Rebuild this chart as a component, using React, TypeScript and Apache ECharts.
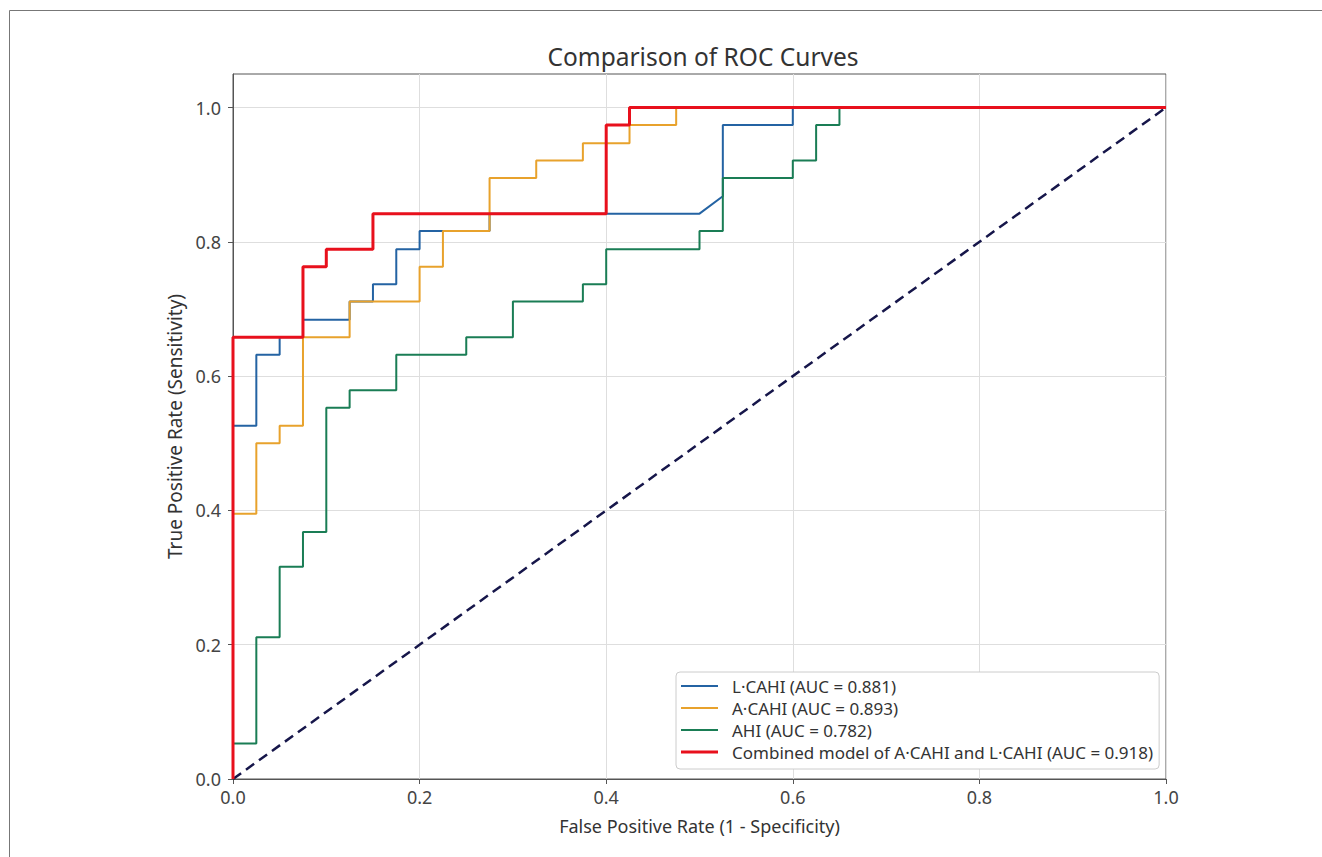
import React, { useEffect, useRef } from "react";
import * as echarts from "echarts";

const chartTitle = "Comparison of ROC Curves";
const xAxisName = "False Positive Rate (1 - Specificity)";
const yAxisName = "True Positive Rate (Sensitivity)";
const tickValues = [0, 0.2, 0.4, 0.6, 0.8, 1.0];

const seriesNames = [
  "L·CAHI (AUC = 0.881)",
  "A·CAHI (AUC = 0.893)",
  "AHI (AUC = 0.782)",
  "Combined model of A·CAHI and L·CAHI (AUC = 0.918)",
];

const lcahiPoints: number[][] = [
  [0, 0], [0, 0.526], [0.025, 0.526], [0.025, 0.632], [0.05, 0.632], [0.05, 0.658],
  [0.075, 0.658], [0.075, 0.684], [0.125, 0.684], [0.125, 0.711], [0.15, 0.711],
  [0.15, 0.737], [0.175, 0.737], [0.175, 0.789], [0.2, 0.789], [0.2, 0.816],
  [0.275, 0.816], [0.275, 0.842], [0.5, 0.842], [0.525, 0.868], [0.525, 0.974],
  [0.6, 0.974], [0.6, 1], [1, 1],
];

const acahiPoints: number[][] = [
  [0, 0], [0, 0.395], [0.025, 0.395], [0.025, 0.5], [0.05, 0.5], [0.05, 0.526],
  [0.075, 0.526], [0.075, 0.658], [0.125, 0.658], [0.125, 0.711], [0.2, 0.711],
  [0.2, 0.763], [0.225, 0.763], [0.225, 0.816], [0.275, 0.816], [0.275, 0.895],
  [0.325, 0.895], [0.325, 0.921], [0.375, 0.921], [0.375, 0.947], [0.425, 0.947],
  [0.425, 0.974], [0.475, 0.974], [0.475, 1], [1, 1],
];

const ahiPoints: number[][] = [
  [0, 0], [0, 0.053], [0.025, 0.053], [0.025, 0.211], [0.05, 0.211], [0.05, 0.316],
  [0.075, 0.316], [0.075, 0.368], [0.1, 0.368], [0.1, 0.553], [0.125, 0.553],
  [0.125, 0.579], [0.175, 0.579], [0.175, 0.632], [0.25, 0.632], [0.25, 0.658],
  [0.3, 0.658], [0.3, 0.711], [0.375, 0.711], [0.375, 0.737], [0.4, 0.737],
  [0.4, 0.789], [0.5, 0.789], [0.5, 0.816], [0.525, 0.816], [0.525, 0.895],
  [0.6, 0.895], [0.6, 0.921], [0.625, 0.921], [0.625, 0.974], [0.65, 0.974],
  [0.65, 1], [1, 1],
];

const combinedPoints: number[][] = [
  [0, 0], [0, 0.658], [0.075, 0.658], [0.075, 0.763], [0.1, 0.763], [0.1, 0.789],
  [0.15, 0.789], [0.15, 0.842], [0.4, 0.842], [0.4, 0.974], [0.425, 0.974],
  [0.425, 1], [1, 1],
];

const chancePoints: number[][] = [
  [0, 0], [1, 1],
];

const seriesColors = ["#2463a3", "#e8a22c", "#1a7d55", "#e8101c"];

export default function App() {
  const ref = useRef<HTMLDivElement>(null);
  useEffect(() => {
    if (!ref.current) return;
    const chart = echarts.init(ref.current, undefined, { renderer: "svg" });
    const font = "'Noto Sans', 'DejaVu Sans', sans-serif";
    const dataSets = [lcahiPoints, acahiPoints, ahiPoints, combinedPoints];
    const lineSeries: any[] = dataSets.map((d, i) => ({
      name: seriesNames[i],
      type: "line",
      data: d,
      symbol: "none",
      showSymbol: false,
      color: seriesColors[i],
      lineStyle: { color: seriesColors[i], width: i === 3 ? 3 : 2 },
      z: 3 + i,
    }));
    lineSeries.push({
      name: "chance",
      type: "line",
      data: chancePoints,
      symbol: "none",
      lineStyle: { color: "#16164a", width: 2.5, type: [10, 6] },
      z: 2,
    });
    const legendData = seriesNames.map((n, i) => ({
      name: n,
      icon: i === 3 ? "path://M0,0H37V3H0Z" : "path://M0,0H37V2H0Z",
    }));
    chart.setOption({
      animation: false,
      backgroundColor: "#ffffff",
      textStyle: { fontFamily: font },
      title: {
        text: chartTitle,
        left: 698,
        top: 39,
        textAlign: "center",
        textStyle: { fontFamily: font, fontSize: 24.5, fontWeight: "normal", color: "#333" },
      },
      graphic: [
        {
          type: "rect",
          shape: { x: 9.5, y: 10.5, width: 1400, height: 900 },
          style: { fill: "none", stroke: "#777", lineWidth: 1 },
          silent: true,
        },
      ],
      grid: {
        left: 233,
        right: 156,
        top: 74,
        bottom: 78,
        show: true,
        borderColor: "#555",
        borderWidth: 1,
        backgroundColor: "transparent",
      },
      legend: {
        orient: "vertical",
        left: 676,
        top: 672,
        data: legendData,
        itemWidth: 37,
        itemHeight: 14,
        itemGap: 4,
        symbolKeepAspect: true,
        padding: [5, 6, 8, 5],
        backgroundColor: "#ffffff",
        borderColor: "#cccccc",
        borderWidth: 1,
        borderRadius: 4,
        textStyle: { fontFamily: font, fontSize: 17, lineHeight: 18, color: "#333", padding: [0, 0, 0, 9] },
      },
      xAxis: {
        type: "value",
        min: 0,
        max: 1,
        interval: 0.2,
        name: xAxisName,
        nameLocation: "middle",
        nameGap: 38,
        nameTextStyle: { fontFamily: font, fontSize: 18, color: "#333" },
        axisLine: { show: true, lineStyle: { color: "#555", width: 1 } },
        axisTick: { show: true, length: 5, lineStyle: { color: "#555" } },
        axisLabel: {
          fontFamily: font,
          fontSize: 18,
          color: "#444",
          margin: 9,
          formatter: (v: number) => v.toFixed(1),
        },
        splitLine: { show: true, lineStyle: { color: "#dedede", width: 1 } },
      },
      yAxis: {
        type: "value",
        min: 0,
        max: 1.05,
        interval: 0.2,
        name: yAxisName,
        nameLocation: "middle",
        nameGap: 48,
        nameTextStyle: { fontFamily: font, fontSize: 19, color: "#333" },
        axisLine: { show: true, lineStyle: { color: "#555", width: 1 } },
        axisTick: { show: true, length: 5, lineStyle: { color: "#555" }, customValues: tickValues },
        axisLabel: {
          fontFamily: font,
          fontSize: 18,
          color: "#444",
          margin: 12,
          customValues: tickValues,
          formatter: (v: number) => (v > 1.001 ? "" : v.toFixed(1)),
        },
        splitLine: { show: true, lineStyle: { color: "#dedede", width: 1 } },
      },
      series: lineSeries,
    });
    return () => chart.dispose();
  }, []);
  return (
    <div
      ref={ref}
      style={{ position: "fixed", left: 0, top: 0, width: 1322, height: 857 }}
    />
  );
}
